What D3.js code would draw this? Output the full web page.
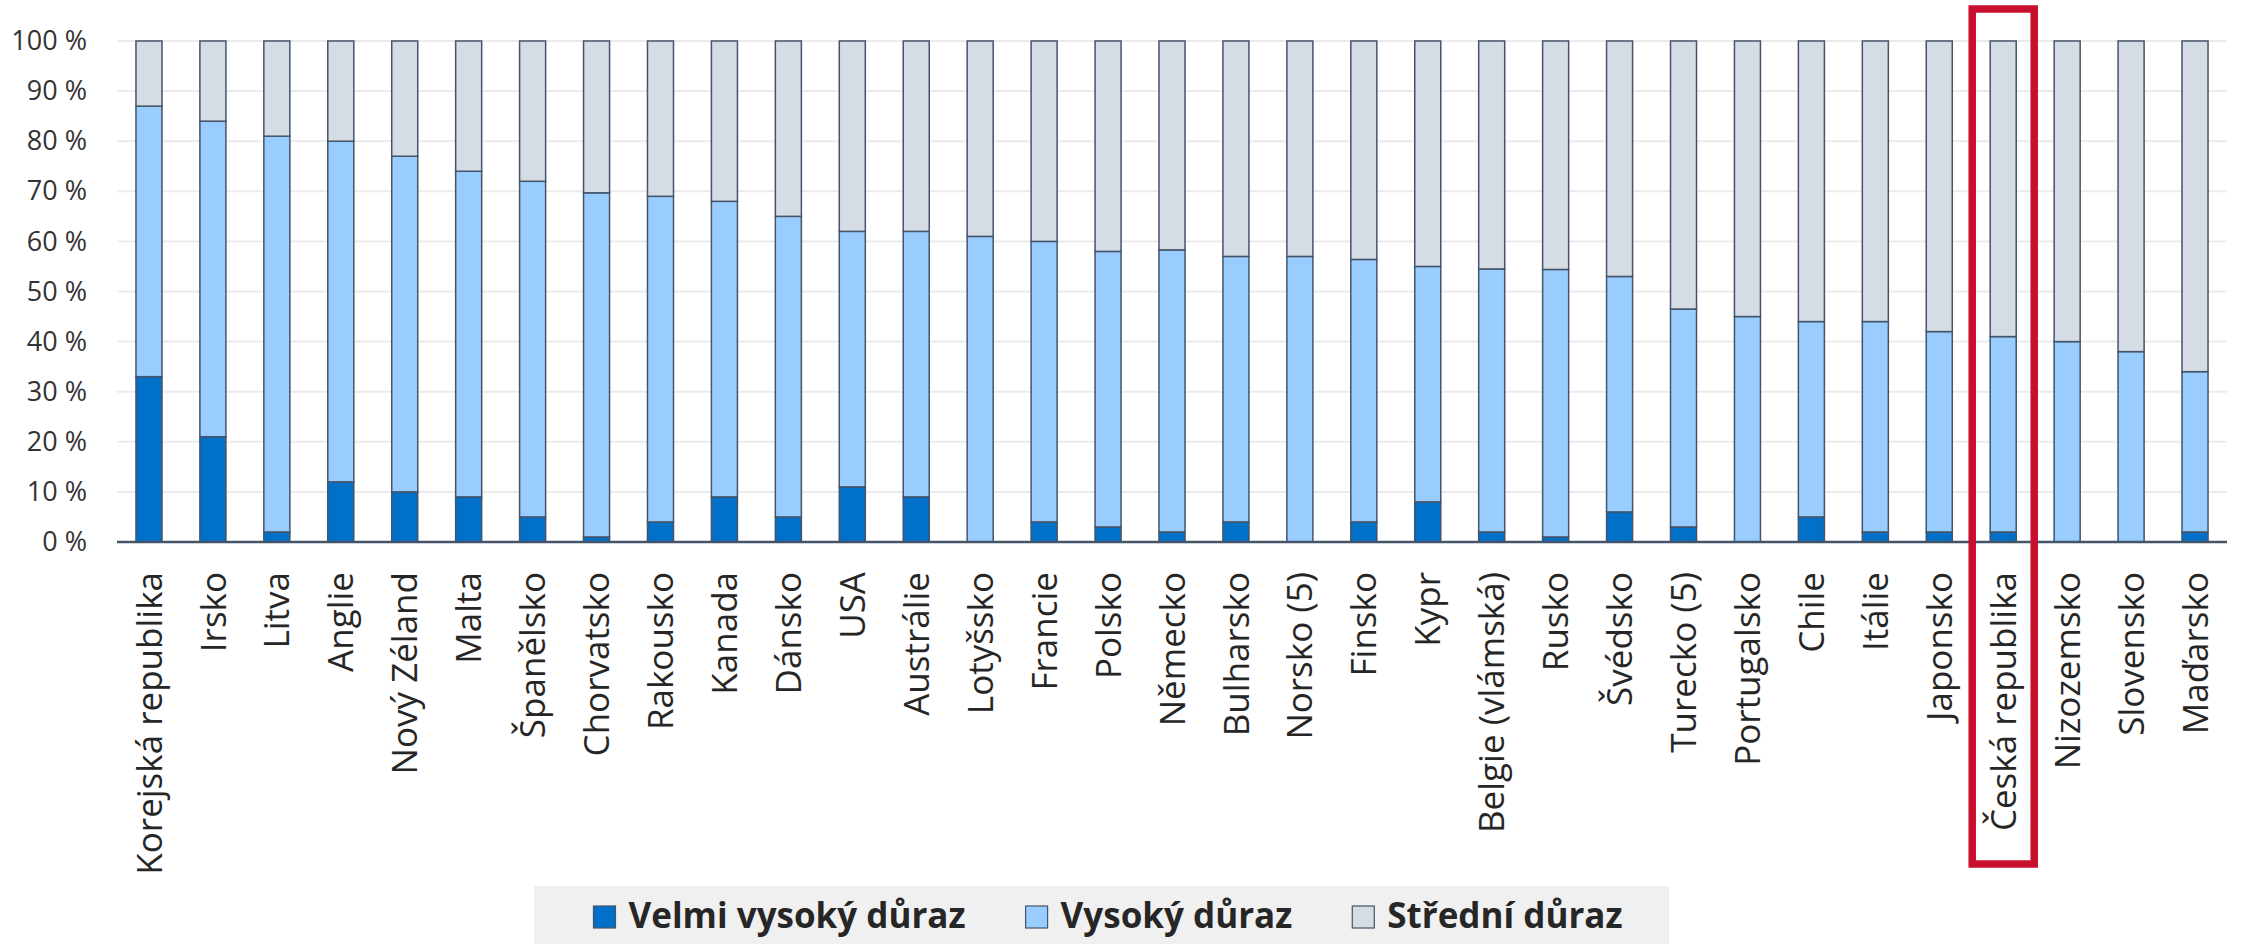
<!DOCTYPE html>
<html>
<head>
<meta charset="utf-8">
<script src="https://cdn.jsdelivr.net/npm/d3@7"></script>
<style>
  body { margin: 0; background: #fff; }
  svg { display: block; font-family: "Open Sans", "Noto Sans", sans-serif; }
</style>
</head>
<body>
<script>
// data (percent of pupils)
var countries = ["Korejská republika", "Irsko", "Litva", "Anglie", "Nový Zéland", "Malta",
  "Španělsko", "Chorvatsko", "Rakousko", "Kanada", "Dánsko", "USA", "Austrálie", "Lotyšsko",
  "Francie", "Polsko", "Německo", "Bulharsko", "Norsko (5)", "Finsko", "Kypr",
  "Belgie (vlámská)", "Rusko", "Švédsko", "Turecko (5)", "Portugalsko", "Chile", "Itálie",
  "Japonsko", "Česká republika", "Nizozemsko", "Slovensko", "Maďarsko"];

var velmiVysoky = [33, 21, 2, 12, 10, 9, 5, 1, 4, 9, 5, 11, 9, 0, 4, 3, 2, 4, 0, 4, 8,
  2, 1, 6, 3, 0, 5, 2, 2, 2, 0, 0, 2];
var vysoky = [54, 63, 79, 68, 67, 65, 67, 68.7, 65, 59, 60, 51, 53, 61, 56, 55, 56.3, 53, 57, 52.4, 47,
  52.5, 53.4, 47, 43.5, 45, 39, 42, 40, 39, 40, 38, 32];
var stredni = [13, 16, 19, 20, 23, 26, 28, 30.3, 31, 32, 35, 38, 38, 39, 40, 42, 41.7, 43, 43, 43.6, 45,
  45.5, 45.6, 47, 53.5, 55, 56, 56, 58, 59, 60, 62, 66];

var seriesNames = ["Velmi vysoký důraz", "Vysoký důraz", "Střední důraz"];
var seriesColors = ["#0070c8", "#99ccff", "#d6dce4"];
var yTicks = [0, 10, 20, 30, 40, 50, 60, 70, 80, 90, 100];
var highlighted = "Česká republika";

var width = 2244, height = 944;
var margin = {top: 41, right: 17, left: 117, plotBottom: 542};

var svg = d3.select("body").append("svg")
    .attr("width", width)
    .attr("height", height);

// table for the stack layout
var rows = countries.map(function(c, i) {
  var r = {country: c};
  r[seriesNames[0]] = velmiVysoky[i];
  r[seriesNames[1]] = vysoky[i];
  r[seriesNames[2]] = stredni[i];
  return r;
});

var x = d3.scaleBand()
    .domain(countries)
    .range([margin.left, width - margin.right])
    .paddingInner(0.593)
    .paddingOuter(0.2965);

var y = d3.scaleLinear()
    .domain([0, 100])
    .range([margin.plotBottom, margin.top]);

var color = d3.scaleOrdinal().domain(seriesNames).range(seriesColors);

// gridlines
svg.append("g")
  .selectAll("line")
  .data(yTicks.filter(function(t) { return t > 0; }))
  .enter().append("line")
    .attr("x1", margin.left)
    .attr("x2", width - margin.right)
    .attr("y1", function(d) { return y(d); })
    .attr("y2", function(d) { return y(d); })
    .attr("stroke", "#ebebeb")
    .attr("stroke-width", 2);

// y axis labels
var yAxis = svg.append("g")
    .attr("transform", "translate(" + margin.left + ",0)")
    .call(d3.axisLeft(y).tickValues(yTicks).tickSize(0).tickPadding(30)
      .tickFormat(function(d) { return d + " %"; }));
yAxis.select(".domain").remove();
yAxis.selectAll("text")
    .attr("fill", "#333")
    .style("font-size", "27px")
    .style("font-family", "'Open Sans', sans-serif");

// stacked bars
var stacked = d3.stack().keys(seriesNames)(rows);

svg.append("g")
  .selectAll("g")
  .data(stacked)
  .enter().append("g")
    .attr("fill", function(d) { return color(d.key); })
  .selectAll("rect")
  .data(function(d) { return d; })
  .enter().append("rect")
    .attr("x", function(d) { return x(d.data.country); })
    .attr("y", function(d) { return y(d[1]); })
    .attr("width", x.bandwidth())
    .attr("height", function(d) { return y(d[0]) - y(d[1]); })
    .attr("stroke", function(d) { return d[1] - d[0] > 0 ? "#44546a" : "none"; })
    .attr("stroke-width", 1.5);

// baseline
svg.append("line")
    .attr("x1", margin.left)
    .attr("x2", width - margin.right)
    .attr("y1", y(0))
    .attr("y2", y(0))
    .attr("stroke", "#44546a")
    .attr("stroke-width", 2.5);

// x labels, rotated
var xAxis = svg.append("g")
    .attr("transform", "translate(0," + y(0) + ")")
    .call(d3.axisBottom(x).tickSize(0).tickPadding(0));
xAxis.select(".domain").remove();
xAxis.selectAll("text")
    .attr("fill", "#262626")
    .style("font-size", "35px")
    .style("font-family", "'Open Sans', sans-serif")
    .attr("text-anchor", "end")
    .attr("transform", "translate(0,30) rotate(-90)")
    .attr("x", 0)
    .attr("y", 0)
    .attr("dy", "0.36em");

// red box around the Czech Republic
var hx = x(highlighted) + x.bandwidth() / 2;
svg.append("rect")
    .attr("x", hx - 31)
    .attr("y", 9)
    .attr("width", 62)
    .attr("height", 855)
    .attr("fill", "none")
    .attr("stroke", "#c8102e")
    .attr("stroke-width", 7.5);

// legend
svg.append("rect")
    .attr("x", 534)
    .attr("y", 886)
    .attr("width", 1135)
    .attr("height", 58)
    .attr("fill", "#f0f0f0");

var legend = svg.append("g");
var lx = 0;
seriesNames.forEach(function(name, i) {
  var item = legend.append("g").attr("transform", "translate(" + lx + ",0)");
  item.append("rect")
      .attr("x", 0)
      .attr("y", 906)
      .attr("width", 22)
      .attr("height", 22)
      .attr("fill", seriesColors[i])
      .attr("stroke", "#44546a")
      .attr("stroke-width", 1.2);
  var t = item.append("text")
      .attr("x", 35)
      .attr("y", 928)
      .attr("fill", "#262626")
      .style("font-size", "35px")
      .style("font-weight", "bold")
      .text(name);
  lx += 35 + t.node().getComputedTextLength() + 60;
});
var legendW = lx - 60;
legend.attr("transform", "translate(" + (1108 - legendW / 2) + ",0)");
</script>
</body>
</html>
